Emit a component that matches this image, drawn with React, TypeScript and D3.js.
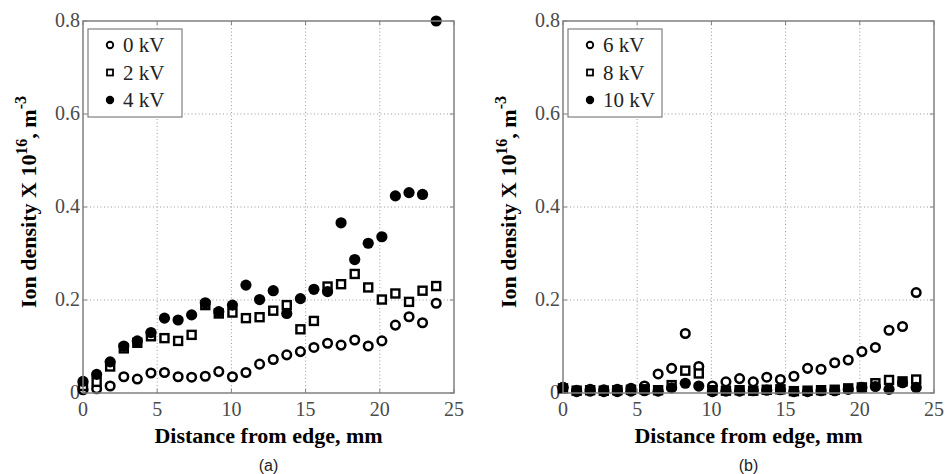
import * as d3 from 'd3';

// distance from edge (mm), same probe positions for every series
const positions = [0, 0.92, 1.83, 2.75, 3.66, 4.58, 5.49, 6.41, 7.32, 8.24, 9.15, 10.07, 10.98, 11.9, 12.82, 13.73, 14.65, 15.56, 16.48, 17.39, 18.31, 19.22, 20.14, 21.05, 21.97, 22.88, 23.8];

// panel (a)
const kv0 = [0.007, 0.009, 0.015, 0.035, 0.03, 0.043, 0.044, 0.035, 0.034, 0.036, 0.046, 0.035, 0.044, 0.062, 0.072, 0.082, 0.089, 0.098, 0.107, 0.103, 0.114, 0.101, 0.112, 0.146, 0.164, 0.151, 0.193];
const kv2 = [0.015, 0.024, 0.057, 0.096, 0.108, 0.122, 0.118, 0.112, 0.125, 0.189, 0.171, 0.173, 0.161, 0.163, 0.177, 0.189, 0.137, 0.155, 0.229, 0.234, 0.256, 0.227, 0.201, 0.214, 0.196, 0.22, 0.23];
const kv4 = [0.025, 0.04, 0.067, 0.101, 0.112, 0.13, 0.161, 0.157, 0.168, 0.194, 0.175, 0.189, 0.232, 0.201, 0.22, 0.171, 0.203, 0.223, 0.218, 0.366, 0.287, 0.322, 0.336, 0.424, 0.431, 0.427, 0.8];

// panel (b)
const kv6 = [0.012, 0.006, 0.008, 0.007, 0.008, 0.01, 0.015, 0.041, 0.053, 0.128, 0.057, 0.015, 0.024, 0.031, 0.024, 0.034, 0.029, 0.036, 0.053, 0.051, 0.065, 0.071, 0.089, 0.098, 0.135, 0.143, 0.216];
const kv8 = [0.01, 0.005, 0.006, 0.005, 0.006, 0.007, 0.008, 0.006, 0.017, 0.048, 0.042, 0.006, 0.005, 0.006, 0.005, 0.007, 0.008, 0.004, 0.005, 0.006, 0.007, 0.01, 0.012, 0.021, 0.028, 0.025, 0.029];
const kv10 = [0.012, 0.003, 0.004, 0.003, 0.003, 0.004, 0.005, 0.004, 0.011, 0.021, 0.015, 0.003, 0.004, 0.004, 0.005, 0.006, 0.007, 0.003, 0.003, 0.005, 0.005, 0.008, 0.012, 0.014, 0.008, 0.022, 0.012];

const xTicks = [0, 5, 10, 15, 20, 25];
const yTicks = [0, 0.2, 0.4, 0.6, 0.8];
const yTickLabels = ['0', '0.2', '0.4', '0.6', '0.8'];

const legendA = ['0 kV', '2 kV', '4 kV'];
const legendB = ['6 kV', '8 kV', '10 kV'];

const serif = 'Liberation Serif';
const axisGray = '#808080';
const textGray = '#4a4a4a';

type Shape = 'open' | 'square' | 'filled';
const shapes: Shape[] = ['open', 'square', 'filled'];

function Marker({ shape, x, y, small }: { shape: Shape; x: number; y: number; small?: boolean }) {
  const k = small ? 0.75 : 1;
  if (shape === 'open') {
    return <circle cx={x} cy={y} r={4.3 * k} fill="white" stroke="black" strokeWidth={2.5 * k} />;
  }
  if (shape === 'square') {
    const s = 8 * k;
    return <rect x={x - s / 2} y={y - s / 2} width={s} height={s} fill="white" stroke="black" strokeWidth={2.4 * k} />;
  }
  return <circle cx={x} cy={y} r={5.6 * k} fill="black" />;
}

function Panel({ left, series, labels, caption }: { left: number; series: number[][]; labels: string[]; caption: string }) {
  const top = 21;
  const bottom = 393;
  const width = 371;
  const x = d3.scaleLinear().domain([0, 25]).range([left, left + width]);
  const y = d3.scaleLinear().domain([0, 0.8]).range([bottom, top]);
  const midX = left + width / 2;
  const midY = (top + bottom) / 2;

  return (
    <g>
      {/* grid */}
      {xTicks.slice(1, -1).map(t => (
        <line key={'gx' + t} x1={x(t)} x2={x(t)} y1={top} y2={bottom} stroke="#999" strokeWidth={1} strokeDasharray="1,2.5" />
      ))}
      {yTicks.slice(1, -1).map(t => (
        <line key={'gy' + t} x1={left} x2={left + width} y1={y(t)} y2={y(t)} stroke="#999" strokeWidth={1} strokeDasharray="1,2.5" />
      ))}

      {/* ticks */}
      {xTicks.map(t => (
        <g key={'tx' + t}>
          <line x1={x(t)} x2={x(t)} y1={bottom} y2={bottom - 4} stroke={axisGray} />
          <line x1={x(t)} x2={x(t)} y1={top} y2={top + 4} stroke={axisGray} />
          <text x={x(t)} y={bottom + 23} textAnchor="middle" fontFamily={serif} fontSize={20} fill={textGray}>{t}</text>
        </g>
      ))}
      {yTicks.map((t, i) => (
        <g key={'ty' + t}>
          <line x1={left} x2={left + 4} y1={y(t)} y2={y(t)} stroke={axisGray} />
          <line x1={left + width} x2={left + width - 4} y1={y(t)} y2={y(t)} stroke={axisGray} />
          <text x={left - 3} y={y(t) + 6} textAnchor="end" fontFamily={serif} fontSize={20} fill={textGray}>{yTickLabels[i]}</text>
        </g>
      ))}

      {/* data */}
      {series.map((vals, si) => (
        <g key={'s' + si}>
          {vals.map((v, i) => (
            <Marker key={i} shape={shapes[si]} x={x(positions[i])} y={y(v)} />
          ))}
        </g>
      ))}

      {/* frame */}
      <rect x={left} y={top} width={width} height={bottom - top} fill="none" stroke={axisGray} strokeWidth={1.5} />

      {/* legend */}
      <rect x={left + 5} y={29} width={94} height={88} fill="white" stroke={axisGray} strokeWidth={1.2} />
      {labels.map((lab, i) => (
        <g key={lab}>
          <Marker shape={shapes[i]} x={left + 27} y={45 + i * 27.5} small />
          <text x={left + 40} y={45 + i * 27.5 + 7} fontFamily={serif} fontSize={21} fill="#222">{lab}</text>
        </g>
      ))}

      {/* axis labels */}
      <text x={midX} y={443} textAnchor="middle" fontFamily={serif} fontWeight="bold" fontSize={22} fill="black">
        Distance from edge, mm
      </text>
      <text x={midX} y={471} textAnchor="middle" fontFamily="Liberation Sans" fontSize={16} fill="#222">
        {caption}
      </text>
      <text transform={`translate(${left - 47},${midY - 5}) rotate(-90)`} textAnchor="middle" fontFamily={serif} fontWeight="bold" fontSize={22} fill="black">
        Ion density X 10<tspan dy={-9} fontSize={16}>16</tspan><tspan dy={9}>, m</tspan><tspan dy={-10} fontSize={16}>-3</tspan>
      </text>
    </g>
  );
}

export default function App() {
  return (
    <svg width={947} height={474} style={{ display: 'block', position: 'absolute', left: 0, top: 0, background: 'white' }}>
      <Panel left={83} series={[kv0, kv2, kv4]} labels={legendA} caption="(a)" />
      <Panel left={563} series={[kv6, kv8, kv10]} labels={legendB} caption="(b)" />
    </svg>
  );
}
